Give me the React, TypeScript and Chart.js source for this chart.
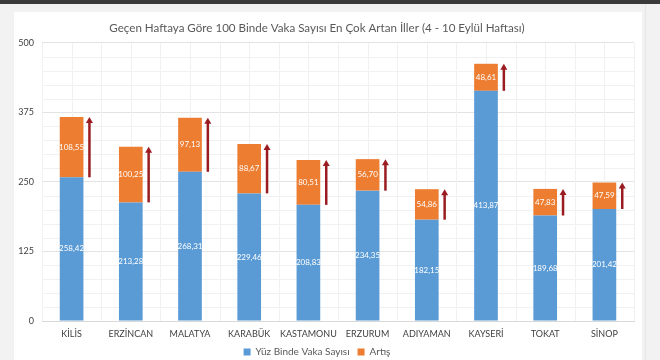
import React, { useEffect, useRef } from "react";
import { Chart, registerables } from "chart.js";

Chart.register(...registerables);

const TITLE = "Geçen Haftaya Göre 100 Binde Vaka Sayısı En Çok Artan İller (4 - 10 Eylül Haftası)";
const categories = ["KİLİS", "ERZİNCAN", "MALATYA", "KARABÜK", "KASTAMONU", "ERZURUM", "ADIYAMAN", "KAYSERİ", "TOKAT", "SİNOP"];
const caseValues = [258.42, 213.28, 268.31, 229.46, 208.83, 234.35, 182.15, 413.87, 189.68, 201.42];
const increaseValues = [108.55, 100.25, 97.13, 88.67, 80.51, 56.7, 54.86, 48.61, 47.83, 47.59];
const seriesNames = ["Yüz Binde Vaka Sayısı", "Artış"];
const yTicks = [0, 125, 250, 375, 500];

const FONT = "Lato, 'Open Sans', sans-serif";
const BLUE = "#5B9BD5";
const ORANGE = "#ED7D31";
const ARROW = "#9A1C20";

const fmt = (v: number) => v.toFixed(2).replace(".", ",");

const minorGrid = {
  id: "minorGrid",
  beforeDatasetsDraw(chart: any) {
    const { ctx, chartArea, scales } = chart;
    const y = scales.y;
    ctx.save();
    ctx.strokeStyle = "#f1f1f1";
    ctx.lineWidth = 1;
    const n = categories.length;
    const step = (chartArea.right - chartArea.left) / n;
    for (let i = 0; i <= 2 * n; i++) {
      const px = Math.round(chartArea.left + (i * step) / 2) + 0.5;
      ctx.beginPath();
      ctx.moveTo(px, chartArea.top);
      ctx.lineTo(px, chartArea.bottom);
      ctx.stroke();
    }
    for (let v = 0; v <= 500; v += 25) {
      if (v % 125 === 0) continue;
      const py = Math.round(y.getPixelForValue(v)) + 0.5;
      ctx.beginPath();
      ctx.moveTo(chartArea.left, py);
      ctx.lineTo(chartArea.right, py);
      ctx.stroke();
    }
    ctx.restore();
  },
};

const labelsAndArrows = {
  id: "labelsAndArrows",
  afterDatasetsDraw(chart: any) {
    const { ctx } = chart;
    const m0 = chart.getDatasetMeta(0);
    const m1 = chart.getDatasetMeta(1);
    ctx.save();
    ctx.fillStyle = "#ffffff";
    ctx.font = `8px ${FONT}`;
    ctx.textAlign = "center";
    ctx.textBaseline = "middle";
    m0.data.forEach((bar: any, i: number) => {
      ctx.fillText(fmt(caseValues[i]), bar.x, (bar.y + bar.base) / 2);
    });
    m1.data.forEach((bar: any, i: number) => {
      ctx.fillText(fmt(increaseValues[i]), bar.x, (bar.y + bar.base) / 2);
    });
    m1.data.forEach((bar: any) => {
      const ax = bar.x + bar.width / 2 + 6;
      const yTop = bar.y;
      const yBot = bar.base;
      ctx.strokeStyle = ARROW;
      ctx.fillStyle = ARROW;
      ctx.lineWidth = 2.5;
      ctx.beginPath();
      ctx.moveTo(ax, yBot);
      ctx.lineTo(ax, yTop + 4);
      ctx.stroke();
      ctx.beginPath();
      ctx.moveTo(ax - 3.5, yTop + 6);
      ctx.lineTo(ax + 3.5, yTop + 6);
      ctx.lineTo(ax, yTop);
      ctx.closePath();
      ctx.fill();
    });
    ctx.restore();
  },
};

export default function App() {
  const ref = useRef<HTMLCanvasElement>(null);
  useEffect(() => {
    document.body.style.margin = "0";
    const chart = new Chart(ref.current as HTMLCanvasElement, {
      type: "bar",
      data: {
        labels: categories,
        datasets: [
          { label: seriesNames[0], data: caseValues, backgroundColor: BLUE, barPercentage: 0.4, categoryPercentage: 1 },
          { label: seriesNames[1], data: increaseValues, backgroundColor: ORANGE, barPercentage: 0.4, categoryPercentage: 1 },
        ],
      },
      options: {
        responsive: false,
        animation: false,
        layout: { padding: { left: 0, right: 26, top: 0, bottom: 3 } },
        plugins: {
          title: {
            display: true,
            text: TITLE,
            color: "#595959",
            font: { family: FONT, size: 11.6, weight: "normal" },
            padding: { top: 21, bottom: 8 },
          },
          legend: {
            position: "bottom",
            maxHeight: 18,
            labels: {
              color: "#595959",
              font: { family: FONT, size: 10 },
              boxWidth: 7,
              boxHeight: 7,
              padding: 8,
            },
          },
          tooltip: { enabled: false },
        },
        scales: {
          x: {
            stacked: true,
            afterFit: (s: any) => { s.height = 18; },
            grid: { display: false, drawTicks: false },
            border: { display: true, color: "#d9d9d9" },
            ticks: { color: "#404040", font: { family: FONT, size: 9 }, padding: 8, maxRotation: 0, autoSkip: false },
          },
          y: {
            stacked: true,
            min: 0,
            max: 500,
            afterFit: (s: any) => { s.width = 42; },
            afterBuildTicks: (s: any) => { s.ticks = yTicks.map((v) => ({ value: v })); },
            grid: { color: "#e3e3e3", drawTicks: false },
            border: { display: false },
            ticks: { color: "#404040", font: { family: FONT, size: 9 }, padding: 8 },
          },
        },
      },
      plugins: [minorGrid, labelsAndArrows],
    });
    return () => chart.destroy();
  }, []);

  return (
    <div style={{ position: "relative", width: 660, height: 360, background: "#f2f2f2", overflow: "hidden" }}>
      <div style={{ position: "absolute", left: 0, top: 0, width: 660, height: 4, background: "#3a3a3a" }} />
      <div style={{ position: "absolute", left: 14, top: 12, width: 628, height: 348, background: "#ffffff" }} />
      <div style={{ position: "absolute", left: 645, top: 4, width: 1, height: 356, background: "#e6e6e6" }} />
      <canvas ref={ref} width={660} height={360} style={{ position: "absolute", left: 0, top: 0 }} />
    </div>
  );
}
